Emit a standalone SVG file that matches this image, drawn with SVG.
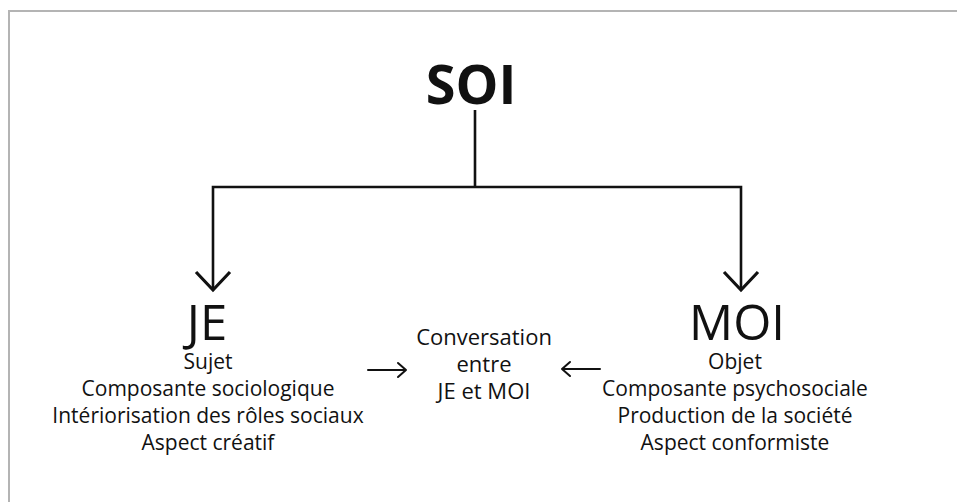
<svg xmlns="http://www.w3.org/2000/svg" width="957" height="502" viewBox="0 0 957 502">
<defs>
<style>
.t{font-family:"Open Sans","Liberation Sans",sans-serif;fill:#111;text-anchor:middle}
.side{font-size:21px}
.mid{font-size:22px}
.big{font-size:49px}
.title{font-size:54px;font-weight:700}
.ln{fill:none;stroke:#111;stroke-width:2.6;stroke-linecap:butt;stroke-linejoin:miter}
.hd{fill:none;stroke:#111;stroke-width:3.2;stroke-linecap:butt;stroke-linejoin:miter}
.sm{fill:none;stroke:#111;stroke-width:2;stroke-linecap:round;stroke-linejoin:round}
</style>
</defs>
<rect x="0" y="0" width="957" height="502" fill="#fff"/>
<rect x="9" y="11" width="960" height="500" fill="none" stroke="#b4b4b4" stroke-width="2"/>
<g id="soi"><text class="t title" x="471" y="104">SOI</text></g>
<g id="je">
<text class="t big" x="207" y="340">JE</text>
<text class="t side" x="208" y="369">Sujet</text>
<text class="t side" x="208" y="396">Composante sociologique</text>
<text class="t side" x="208" y="423">Intériorisation des rôles sociaux</text>
<text class="t side" x="208" y="450">Aspect créatif</text>
</g>
<g id="moi">
<text class="t big" x="737" y="340">MOI</text>
<text class="t side" x="735" y="369">Objet</text>
<text class="t side" x="735" y="396">Composante psychosociale</text>
<text class="t side" x="735" y="423">Production de la société</text>
<text class="t side" x="735" y="450">Aspect conformiste</text>
</g>
<g id="conversation">
<text class="t mid" x="484" y="345">Conversation</text>
<text class="t mid" x="484" y="372">entre</text>
<text class="t mid" x="484" y="399">JE et MOI</text>
</g>
<g id="connectors">
<path class="ln" d="M475 110 V187 M213 187 H741 M213 185.7 V289 M741 185.7 V289"/>
<path class="hd" d="M196 272 L213 290 L230 272 M724 272 L741 290 L758 272"/>
<path class="sm" d="M368 370 H406 M398 363 L406 370 L398 377"/>
<path class="sm" d="M600 369 H562 M570 362 L562 369 L570 376"/>
</g>
</svg>
